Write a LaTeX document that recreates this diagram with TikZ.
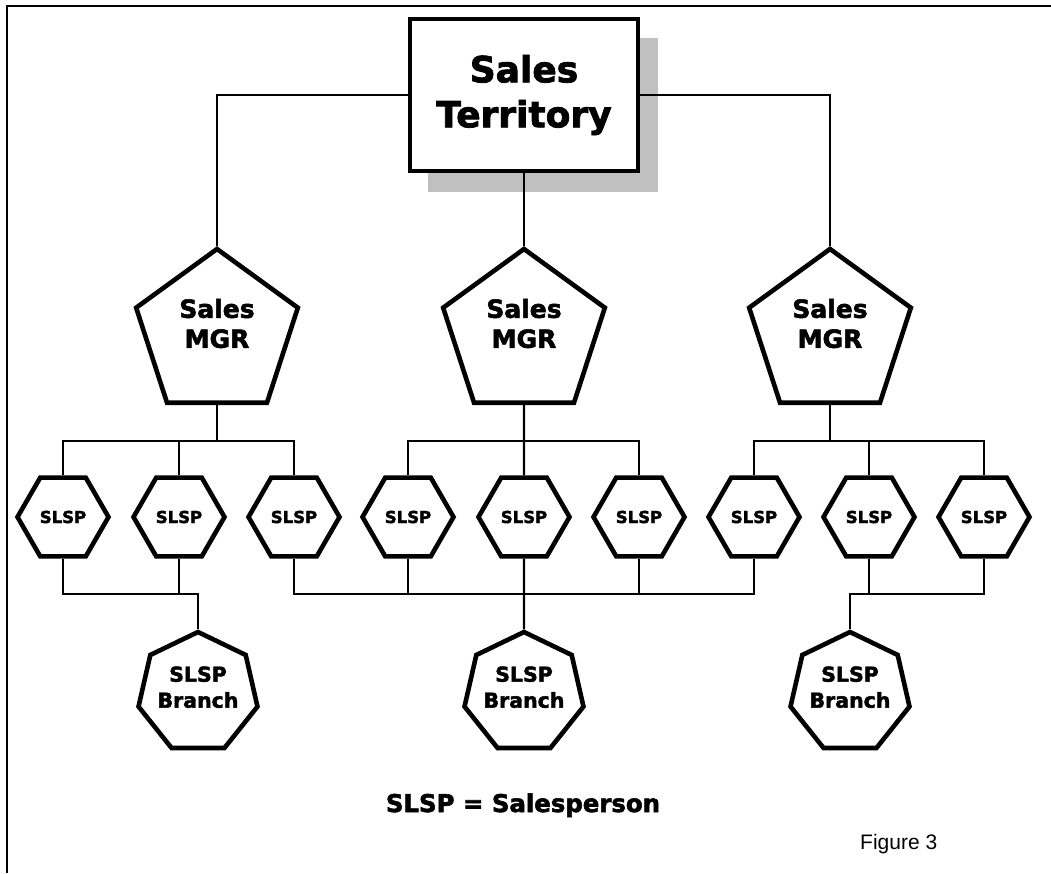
\documentclass[tikz,border=0pt]{standalone}
\usepackage{fontspec}
\usetikzlibrary{shapes.geometric}
\newfontfamily\lblfont{DejaVu Sans}[BoldFeatures={FakeBold=2.2}]
\newfontfamily\notefont{Liberation Sans}
\definecolor{shadowgray}{HTML}{C0C0C0}

\begin{document}
\begin{tikzpicture}[x=1pt,y=-1pt,
  shapeline/.style={draw=black, line width=4.6pt, fill=white, inner sep=0pt},
  terrbox/.style={shapeline, rectangle, minimum width=228pt, minimum height=152pt,
    font=\lblfont\bfseries\fontsize{36}{45}\selectfont, align=center},
  mgrshape/.style={shapeline, regular polygon, regular polygon sides=5, minimum size=170pt},
  mgrtext/.style={font=\lblfont\bfseries\fontsize{25}{30}\selectfont, align=center, inner sep=0pt},
  slspshape/.style={shapeline, regular polygon, regular polygon sides=6, minimum size=91pt,
    font=\lblfont\bfseries\fontsize{16.5}{20}\selectfont},
  branchshape/.style={shapeline, regular polygon, regular polygon sides=7, minimum size=122pt},
  branchtext/.style={font=\lblfont\bfseries\fontsize{20.5}{26}\selectfont, align=center, inner sep=0pt},
  link/.style={draw=black, line width=2.3pt},
  thinlink/.style={draw=black, line width=1.4pt},
  legend/.style={font=\lblfont\bfseries\fontsize{24.4}{30}\selectfont, inner sep=0pt},
  caption/.style={font=\notefont\fontsize{21}{25}\selectfont, inner sep=0pt}
]
\useasboundingbox (0,0) rectangle (1051,873);

% page frame (top and left edges)
\draw[line width=1.5pt] (7,873) -- (7,6) -- (1051,6);

% drop shadow behind the territory box
\fill[shadowgray] (428,38) rectangle (658,192);

% territory
\node[terrbox] (T) at (524,95) {Sales\\Territory};

% managers
\foreach \i/\x in {1/217, 2/524, 3/830} {
  \node[mgrshape] (M\i) at (\x,334) {};
  \node[mgrtext] (M\i txt) at (\x,323.5) {Sales\\MGR};
}

% salespeople
\foreach \i/\x in {1/63, 2/179, 3/294, 4/408, 5/524, 6/639, 7/754, 8/869, 9/984} {
  \node[slspshape] (S\i) at (\x,517) {SLSP};
}

% branches
\foreach \i/\x in {1/198, 2/524, 3/850} {
  \node[branchshape] (B\i) at (\x,693) {};
  \node[branchtext] (B\i txt) at (\x,687.2) {SLSP\\Branch};
}

% bus junctions
\coordinate (u1) at (217,441);
\coordinate (u2) at (524,441);
\coordinate (u3) at (830,441);
\coordinate (l1) at (198,594);
\coordinate (l2) at (524,594);
\coordinate (l3) at (850,594);

% territory to managers
\draw[link] (T.west) -| (M1.north);
\draw[link] (T.east) -| (M3.north);
\draw[link] (T.south) -- (M2.north);

% managers to salespeople
\draw[link] (M1.south) -- (u1);
\draw[link] (S1.north) |- (u1) -| (S3.north);
\draw[link] (S2.north) -- (S2.north |- u1);

\draw[link] (M2.south) -- (S5.north);
\draw[link] (S4.north) |- (u2) -| (S6.north);

\draw[link] (M3.south) -- (u3);
\draw[link] (S7.north) |- (u3) -| (S9.north);
\draw[link] (S8.north) -- (S8.north |- u3);

% salespeople to branches
\draw[link] (S1.south) |- (l1) -- (B1.north);
\draw[link] (S2.south) -- (S2.south |- l1);

\draw[link] (S3.south) |- (l2) -| (S7.south);
\draw[link] (S4.south) -- (S4.south |- l2);
\draw[link] (S5.south) -- (B2.north);
\draw[link] (S6.south) -- (S6.south |- l2);

\draw[link] (B3.north) -- (l3) -| (S8.south);
\draw[thinlink] (S8.south |- l3) -| (S9.south);

% legend and caption
\node[legend, anchor=base] (key) at (523,812) {SLSP = Salesperson};
\node[caption, anchor=base west] (fig) at (860,849) {Figure 3};
\end{tikzpicture}
\end{document}
